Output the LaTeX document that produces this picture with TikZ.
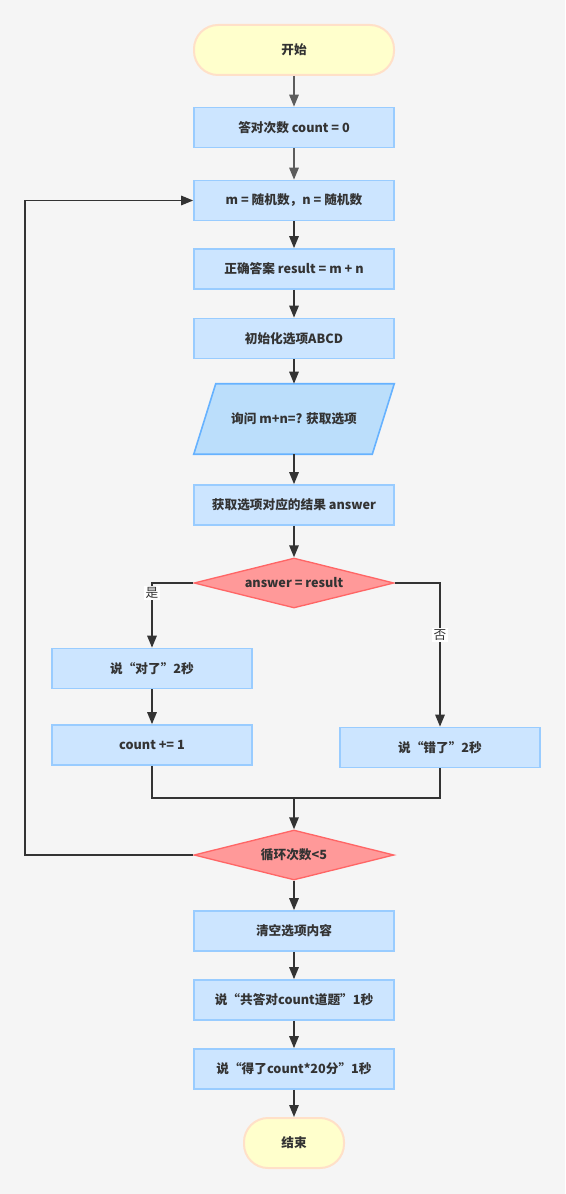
\documentclass[tikz,border=0pt]{standalone}
\usepackage{fontspec}
\setmainfont{Noto Sans CJK SC}
\usetikzlibrary{arrows.meta, shapes.geometric, positioning}
\definecolor{bgcol}{HTML}{F5F5F5}
\definecolor{boxfill}{HTML}{CCE5FF}
\definecolor{boxline}{HTML}{99CCFF}
\definecolor{iofill}{HTML}{BBDEFB}
\definecolor{ioline}{HTML}{66B2FF}
\definecolor{decfill}{HTML}{FF9999}
\definecolor{decline}{HTML}{FF6666}
\definecolor{termfill}{HTML}{FFFFCC}
\definecolor{termline}{HTML}{FFE0C8}
\definecolor{txt}{HTML}{333333}
\tikzset{
  every node/.style={font=\fontsize{9.5pt}{11pt}\selectfont\bfseries, text=txt},
  stepbox/.style={rectangle, draw=boxline, fill=boxfill, line width=1.2pt,
    minimum width=150pt, minimum height=30pt, inner sep=0pt},
  termbox/.style={rectangle, rounded corners=18pt, draw=termline, fill=termfill,
    line width=1.5pt, minimum height=37.5pt, inner sep=0pt},
  decbox/.style={diamond, aspect=4, draw=decline, fill=decfill, line width=1pt,
    minimum width=150pt, minimum height=37.5pt, inner sep=0pt},
  flow/.style={draw=txt, line width=1.4pt, -{Triangle[length=9pt,width=7pt]}},
  line/.style={draw=txt, line width=1.4pt},
  yesno/.style={font=\fontsize{9.5pt}{11pt}\selectfont, fill=white, inner sep=1pt}
}
\begin{document}
\begin{tikzpicture}[x=0.75pt, y=-0.75pt]
  \useasboundingbox[fill=bgcol] (0,0) rectangle (565,1194);
  % main column
  \node (start)  [termbox, minimum width=150pt] at (294,50) {开始};
  \node (zero)   [stepbox] at (294,127.5) {答对次数 count = 0};
  \node (rand)   [stepbox] at (294,200.5) {m = 随机数，n = 随机数};
  \node (res)    [stepbox] at (294,269)   {正确答案 result = m + n};
  \node (opts)   [stepbox] at (294,338.5) {初始化选项ABCD};
  \node (ask)    [minimum width=150pt, minimum height=52.5pt, inner sep=0pt] at (294,419) {};
  \draw[draw=ioline, fill=iofill, line width=1.2pt]
    ([xshift=16.5pt]ask.north west) -- (ask.north east)
    -- ([xshift=-16.5pt]ask.south east) -- (ask.south west) -- cycle;
  \node at (ask) {询问 m+n=? 获取选项};
  \node (ans)    [stepbox] at (294,505)   {获取选项对应的结果 answer};
  \node (check)  [decbox]  at (294,583)   {answer = result};
  \node (right)  [stepbox] at (152,668.5) {说“对了”2秒};
  \node (inc)    [stepbox] at (152,745)   {count += 1};
  \node (wrong)  [stepbox] at (440,747.5) {说“错了”2秒};
  \node (loop)   [decbox]  at (294,855)   {循环次数<5};
  \node (clear)  [stepbox] at (294,931)   {清空选项内容};
  \node (total)  [stepbox] at (294,1000)  {说“共答对count道题”1秒};
  \node (score)  [stepbox] at (294,1069)  {说“得了count*20分”1秒};
  \node (stop)   [termbox, minimum width=75pt] at (294,1143) {结束};
  \coordinate (join) at (294,798);
  \coordinate (back) at (25,855);

  % connectors
  \draw[flow, draw=txt!80] (start) -- (zero);
  \draw[flow, draw=txt!80] (zero) -- (rand);
  \draw[flow] (rand) -- (res);
  \draw[flow] (res) -- (opts);
  \draw[flow] (opts) -- (ask);
  \draw[flow] (ask) -- (ans);
  \draw[flow] (ans) -- (check);
  \draw[flow] (check.west) -| node[yesno, pos=0.58] {是} (right.north);
  \draw[flow] (check.east) -| node[yesno, pos=0.68] {否} (wrong.north);
  \draw[flow] (right) -- (inc);
  \draw[line] (inc.south) |- (join) -| (wrong.south);
  \draw[flow] (join) -- (loop.north);
  \draw[flow] (loop.west) -- (back) |- (rand.west);
  \draw[flow] (loop) -- (clear);
  \draw[flow] (clear) -- (total);
  \draw[flow] (total) -- (score);
  \draw[flow] (score) -- (stop);
\end{tikzpicture}
\end{document}
